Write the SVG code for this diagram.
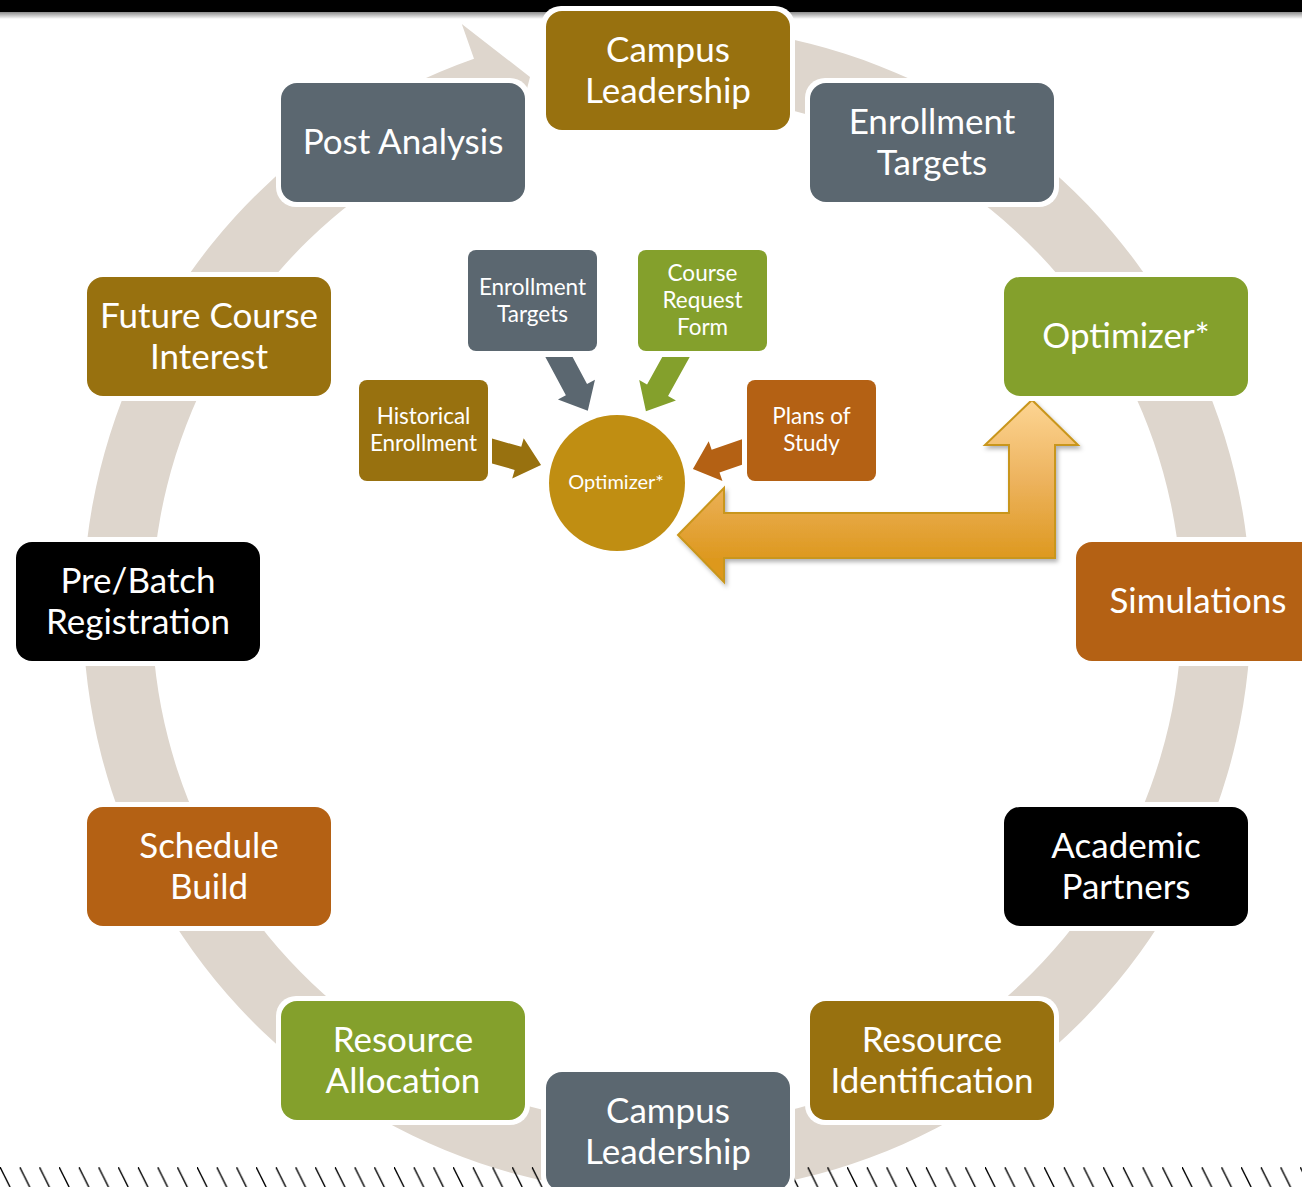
<svg xmlns="http://www.w3.org/2000/svg" width="1302" height="1187" viewBox="0 0 1302 1187">
<defs>
<style>
.big{font-family:Lato,"Noto Sans","DejaVu Sans",sans-serif;font-size:35px;fill:#fff;text-anchor:middle}
.sm{font-family:Lato,"Noto Sans","DejaVu Sans",sans-serif;font-size:22.5px;fill:#fff;text-anchor:middle}
.rim{fill:#fff}
.gold{fill:#98710F}
.slate{fill:#5B6770}
.green{fill:#84A02C}
.orange{fill:#B46114}
.black{fill:#000}
</style>
<linearGradient id="barShadow" x1="0" y1="0" x2="0" y2="1">
<stop offset="0" stop-color="#000" stop-opacity="0.45"/>
<stop offset="1" stop-color="#000" stop-opacity="0"/>
</linearGradient>
<linearGradient id="bentGrad" gradientUnits="userSpaceOnUse" x1="0" y1="400" x2="0" y2="560">
<stop offset="0" stop-color="#FDD593"/>
<stop offset="0.5" stop-color="#EDB35E"/>
<stop offset="1" stop-color="#DD981E"/>
</linearGradient>
<filter id="shadow" x="-10%" y="-10%" width="130%" height="140%">
<feDropShadow dx="2" dy="3" stdDeviation="2" flood-color="#000" flood-opacity="0.3"/>
</filter>
<pattern id="hatch" patternUnits="userSpaceOnUse" x="0" y="1167" width="19.7" height="20">
<path d="M0,0 L10,20" stroke="#000" stroke-width="1.4" fill="none"/>
</pattern>
<clipPath id="clipTop"><rect x="0" y="357" width="1302" height="200"/></clipPath>
<clipPath id="clipHist"><rect x="492" y="0" width="300" height="1187"/></clipPath>
<clipPath id="clipPlans"><rect x="0" y="0" width="742" height="1187"/></clipPath>
</defs>

<rect x="0" y="0" width="1302" height="1187" fill="#fff"/>
<rect x="0" y="0" width="1302" height="12" fill="#000"/>
<rect x="0" y="12" width="1302" height="7" fill="url(#barShadow)"/>

<g id="ring">
<path d="M667,26 A584,584 0 1 1 474.0,58.8 L461.8,23.9 L530,77 L509.0,158.9 L496.8,123.9 A515,515 0 1 0 667,95 Z" fill="#DED6CD"/>
</g>

<rect id="hatching" x="0" y="1167" width="1302" height="20" fill="url(#hatch)"/>

<g id="connectors">
<g clip-path="url(#clipHist)"><polygon transform="translate(484.3,448.8) rotate(15.9)" points="0,-12 35,-12 35,-21 59,0 35,21 35,12 0,12" fill="#98710F"/></g>
<g clip-path="url(#clipTop)"><polygon transform="translate(553.3,346.4) rotate(61.8)" points="0,-12 49,-12 49,-21 73,0 49,21 49,12 0,12" fill="#5B6770"/></g>
<g clip-path="url(#clipTop)"><polygon transform="translate(681.8,346.5) rotate(119)" points="0,-12 50,-12 50,-21 74,0 50,21 50,12 0,12" fill="#84A02C"/></g>
<g clip-path="url(#clipPlans)"><polygon transform="translate(749.6,449.4) rotate(160.9)" points="0,-12 36,-12 36,-21 60,0 36,21 36,12 0,12" fill="#B46114"/></g>
<polygon id="bent-arrow" points="678,535 724,488 724,513 1009,513 1009,445 985,445 1032,400 1078,445 1055,445 1055,558 724,558 724,582" fill="url(#bentGrad)" stroke="#C9961C" stroke-width="2" stroke-linejoin="miter" filter="url(#shadow)"/>
</g>

<g id="n-campus-top">
<rect class="rim" x="541" y="6" width="254" height="129" rx="20"/>
<rect class="gold" x="546" y="11" width="244" height="119" rx="16"/>
<text class="big" x="668" y="62">Campus</text>
<text class="big" x="668" y="103">Leadership</text>
</g>
<g id="n-enrollment-targets">
<rect class="rim" x="805" y="78" width="254" height="129" rx="20"/>
<rect class="slate" x="810" y="83" width="244" height="119" rx="16"/>
<text class="big" x="932" y="134">Enrollment</text>
<text class="big" x="932" y="175">Targets</text>
</g>
<g id="n-optimizer">
<rect class="rim" x="999" y="272" width="254" height="129" rx="20"/>
<rect class="green" x="1004" y="277" width="244" height="119" rx="16"/>
<text class="big" x="1126" y="348">Optimizer*</text>
</g>
<g id="n-simulations">
<rect class="rim" x="1071" y="537" width="254" height="129" rx="20"/>
<rect class="orange" x="1076" y="542" width="244" height="119" rx="16"/>
<text class="big" x="1198" y="613">Simulations</text>
</g>
<g id="n-academic-partners">
<rect class="rim" x="999" y="802" width="254" height="129" rx="20"/>
<rect class="black" x="1004" y="807" width="244" height="119" rx="16"/>
<text class="big" x="1126" y="858">Academic</text>
<text class="big" x="1126" y="899">Partners</text>
</g>
<g id="n-resource-identification">
<rect class="rim" x="805" y="996" width="254" height="129" rx="20"/>
<rect class="gold" x="810" y="1001" width="244" height="119" rx="16"/>
<text class="big" x="932" y="1052">Resource</text>
<text class="big" x="932" y="1093">Identification</text>
</g>
<g id="n-campus-bottom">
<rect class="rim" x="541" y="1067" width="254" height="129" rx="20"/>
<rect class="slate" x="546" y="1072" width="244" height="119" rx="16"/>
<text class="big" x="668" y="1123">Campus</text>
<text class="big" x="668" y="1164">Leadership</text>
</g>
<g id="n-resource-allocation">
<rect class="rim" x="276" y="996" width="254" height="129" rx="20"/>
<rect class="green" x="281" y="1001" width="244" height="119" rx="16"/>
<text class="big" x="403" y="1052">Resource</text>
<text class="big" x="403" y="1093">Allocation</text>
</g>
<g id="n-schedule-build">
<rect class="rim" x="82" y="802" width="254" height="129" rx="20"/>
<rect class="orange" x="87" y="807" width="244" height="119" rx="16"/>
<text class="big" x="209" y="858">Schedule</text>
<text class="big" x="209" y="899">Build</text>
</g>
<g id="n-prebatch">
<rect class="rim" x="11" y="537" width="254" height="129" rx="20"/>
<rect class="black" x="16" y="542" width="244" height="119" rx="16"/>
<text class="big" x="138" y="593">Pre/Batch</text>
<text class="big" x="138" y="634">Registration</text>
</g>
<g id="n-future-course">
<rect class="rim" x="82" y="272" width="254" height="129" rx="20"/>
<rect class="gold" x="87" y="277" width="244" height="119" rx="16"/>
<text class="big" x="209" y="328">Future Course</text>
<text class="big" x="209" y="369">Interest</text>
</g>
<g id="n-post-analysis">
<rect class="rim" x="276" y="78" width="254" height="129" rx="20"/>
<rect class="slate" x="281" y="83" width="244" height="119" rx="16"/>
<text class="big" x="403" y="154">Post Analysis</text>
</g>

<g id="c-enrollment-targets">
<rect class="slate" x="468" y="250" width="129" height="101" rx="8"/>
<text class="sm" x="532.5" y="294.5">Enrollment</text>
<text class="sm" x="532.5" y="321.5">Targets</text>
</g>
<g id="c-course-request">
<rect class="green" x="638" y="250" width="129" height="101" rx="8"/>
<text class="sm" x="702.5" y="281">Course</text>
<text class="sm" x="702.5" y="308">Request</text>
<text class="sm" x="702.5" y="334.5">Form</text>
</g>
<g id="c-historical">
<rect class="gold" x="359" y="380" width="129" height="101" rx="8"/>
<text class="sm" x="423.5" y="424">Historical</text>
<text class="sm" x="423.5" y="451">Enrollment</text>
</g>
<g id="c-plans">
<rect class="orange" x="747" y="380" width="129" height="101" rx="8"/>
<text class="sm" x="811.5" y="424">Plans of</text>
<text class="sm" x="811.5" y="451">Study</text>
</g>
<g id="c-optimizer">
<circle cx="617" cy="483" r="68" fill="#C08E12"/>
<text class="sm" x="616" y="489" style="font-size:20px">Optimizer*</text>
</g>
</svg>
